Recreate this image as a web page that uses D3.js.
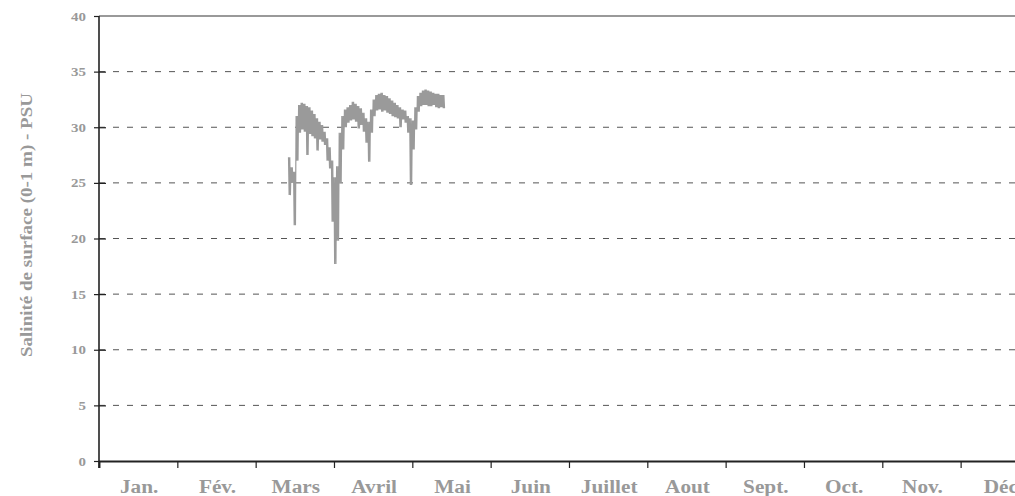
<!DOCTYPE html>
<html>
<head>
<meta charset="utf-8">
<script src="https://cdn.jsdelivr.net/npm/d3@7/dist/d3.min.js"></script>
<style>
  html, body { margin: 0; padding: 0; background: #fff; }
  svg { display: block; }
  text { font-family: "Liberation Serif", "Times New Roman", serif; font-weight: bold; fill: #999; }
</style>
</head>
<body>
<svg id="chart" width="1015" height="496"></svg>
<script>
// ---- Data ----
const months = ["Jan.", "Fév.", "Mars", "Avril", "Mai", "Juin", "Juillet", "Aout", "Sept.", "Oct.", "Nov.", "Déc"];
const monthDays = [31, 28, 31, 30, 31, 30, 31, 31, 30, 31, 30, 31];
const yTicks = [0, 5, 10, 15, 20, 25, 30, 35, 40];
const yTitle = "Salinité de surface (0-1 m) - PSU";

// daily records from 14 March to 13 May
const startMonth = 2, startDay = 14;
// daily maximum salinity (PSU)
const hiVals = [
  27.3, 26.4, 26.0, 31.0, 32.0, 32.2, 32.1, 31.9, 31.8, 31.5, 31.2, 30.8, 30.5, 30.2, 29.6, 29.0, 28.2, 27.0,
  25.5, 26.5, 29.5, 31.0, 31.6, 31.8, 32.0, 32.3, 32.1, 31.9, 31.7, 31.3, 30.8, 30.5, 31.6, 32.5, 32.9, 33.0,
  33.1, 32.9, 32.8, 32.6, 32.4, 32.2, 32.0, 31.8, 31.6, 31.5, 31.0, 30.8,
  30.6, 31.8, 32.8, 33.1, 33.3, 33.4, 33.3, 33.2, 33.1, 33.0, 33.0, 32.9, 32.9
];
// daily minimum salinity (PSU)
const loVals = [
  23.9, 25.0, 21.2, 27.0, 29.5, 29.8, 29.6, 27.5, 29.4, 29.2, 29.0, 27.9, 28.9, 28.7, 28.4, 27.0, 26.3, 21.5,
  17.7, 19.8, 25.0, 28.0, 30.0, 30.4, 30.6, 30.7, 30.5, 29.9, 30.2, 29.6, 28.6, 26.9, 29.5, 31.0, 31.5, 31.6,
  31.4, 31.5, 31.3, 31.2, 31.0, 30.9, 30.8, 30.0, 30.7, 30.4, 29.5, 24.8,
  28.0, 29.8, 31.4, 31.9, 32.0, 32.0, 31.9, 31.9, 32.0, 31.8, 31.7, 31.8, 31.7
];

// ---- Layout ----
const padL = 99, padT = 16, baseY = 461, monthW = 78.33, fullW = 1015;
const svg = d3.select("#chart");

const x = d3.scaleLinear().domain([0, 12]).range([padL, padL + 12 * monthW]);
const y = d3.scaleLinear().domain([0, 40]).range([baseY, padT]);

function monthPos(i, frac) {
  let m = startMonth, d = startDay + i;
  while (d > monthDays[m]) { d -= monthDays[m]; m++; }
  return m + (d - 1 + frac) / monthDays[m];
}

// gridlines
svg.append("g").selectAll("line")
  .data(yTicks.filter(v => v > 0 && v < 40))
  .join("line")
  .attr("x1", padL).attr("x2", fullW)
  .attr("y1", d => y(d)).attr("y2", d => y(d))
  .attr("stroke", "#555").attr("stroke-width", 1)
  .attr("stroke-dasharray", "6,8");

// top border
svg.append("line")
  .attr("x1", padL).attr("x2", fullW).attr("y1", y(40)).attr("y2", y(40))
  .attr("stroke", "#999").attr("stroke-width", 2);

// data line: semi-diurnal zigzag between each day's max and min (two tides a day)
const pts = [];
hiVals.forEach((h, i) => {
  pts.push([monthPos(i, 0.0), h]);
  pts.push([monthPos(i, 0.25), loVals[i]]);
  pts.push([monthPos(i, 0.5), h]);
  pts.push([monthPos(i, 0.75), loVals[i]]);
});
svg.append("path")
  .datum(pts)
  .attr("fill", "none")
  .attr("stroke", "#9a9a9a")
  .attr("stroke-width", 1.2)
  .attr("stroke-linejoin", "bevel")
  .attr("d", d3.line().x(d => x(d[0])).y(d => y(d[1])));

// y axis
const yAxis = svg.append("g").attr("transform", `translate(${padL},0)`)
  .call(d3.axisLeft(y).tickValues(yTicks).tickSize(5).tickFormat(""));
yAxis.select(".domain").remove();
yAxis.selectAll(".tick line").attr("x1", 7).attr("x2", -5).attr("stroke", "#222").attr("stroke-width", 1.2);
yAxis.selectAll(".tick").filter(d => d === 0 || d === 40).select("line").attr("x1", 0);
svg.append("line").attr("x1", padL).attr("x2", padL).attr("y1", padT).attr("y2", baseY + 7)
  .attr("stroke", "#222").attr("stroke-width", 1.6);

// y tick labels
svg.append("g").selectAll("text")
  .data(yTicks).join("text")
  .attr("transform", d => `translate(86,${y(d) + 4.5}) scale(1.15,1)`)
  .attr("text-anchor", "end")
  .attr("font-size", "13px")
  .text(d => d);

// x axis
const xAxis = svg.append("g").attr("transform", `translate(0,${baseY})`)
  .call(d3.axisBottom(x).tickValues(d3.range(0, 13)).tickSize(7).tickFormat(""));
xAxis.select(".domain").attr("stroke", "#222").attr("stroke-width", 1.8);
xAxis.selectAll(".tick line").attr("stroke", "#222").attr("stroke-width", 1.2);

// month labels
svg.append("g").selectAll("text")
  .data(months).join("text")
  .attr("transform", (d, i) => `translate(${x(i + 0.5) + 1},493) scale(1.12,1)`)
  .attr("text-anchor", "middle")
  .attr("font-size", "19px")
  .text(d => d);

// y title
svg.append("text")
  .attr("transform", `translate(32,225) rotate(-90)`)
  .attr("text-anchor", "middle")
  .attr("font-size", "17px")
  .attr("textLength", 264)
  .attr("lengthAdjust", "spacingAndGlyphs")
  .text(yTitle);
</script>
</body>
</html>
